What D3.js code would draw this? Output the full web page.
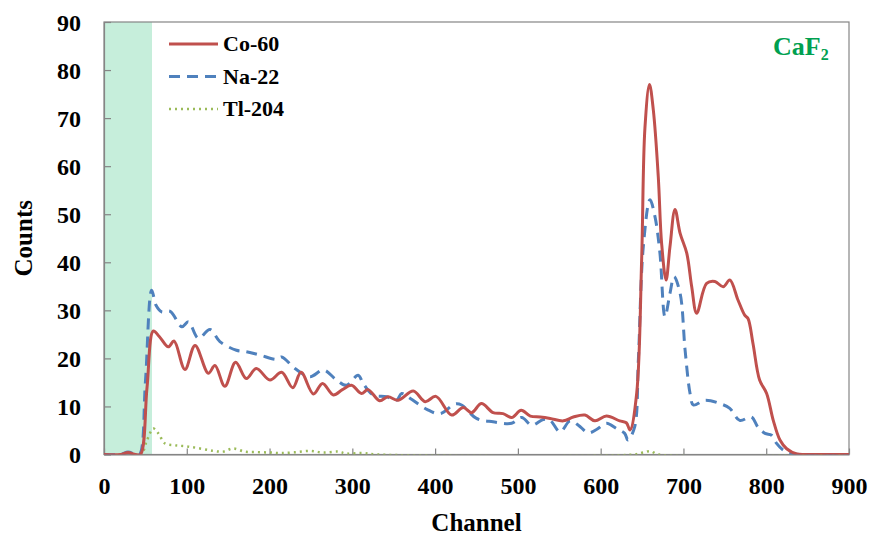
<!DOCTYPE html>
<html>
<head>
<meta charset="utf-8">
<script src="https://cdn.jsdelivr.net/npm/d3@7"></script>
<style>
  html, body { margin: 0; padding: 0; background: #fff; }
  svg { display: block; }
  text { font-family: "Liberation Serif", "Times New Roman", serif; font-weight: bold; }
</style>
</head>
<body>
<svg id="chart" width="874" height="546"></svg>
<script>
// ---- data ----
const xTicks = [0, 100, 200, 300, 400, 500, 600, 700, 800, 900];
const yTicks = [0, 10, 20, 30, 40, 50, 60, 70, 80, 90];
const seriesNames = ["Co-60", "Na-22", "Tl-204"];
const shadedRange = [0, 58];

const co60 = [[0,0],[20,0],[29,0.4],[38,0],[44,0],[52,14],[59.6,25.7],[67,24.5],[77.7,22.4],[84.6,23.6],[97.8,17.7],[110,22.7],[126,16.9],[134,18.5],[146,14.2],[159,19.2],[172,15.8],[184,17.9],[200.5,15.5],[214.6,17.1],[228,13.9],[238,17.1],[253,12.6],[264,14.8],[277,12.4],[288,13.5],[299,14.4],[311,12.7],[319,13.5],[333,11.2],[343,12.0],[355.5,11.3],[373.6,13.2],[388,11.0],[401,12.1],[420,8.2],[434,9.8],[444,8.7],[456,10.6],[470,8.7],[482,8.5],[492.5,7.7],[504,9.2],[515,8.0],[527,7.8],[539,7.5],[555,7.0],[567,7.8],[581,8.2],[593,7.0],[607,8.0],[623,7.0],[631,6.6],[635.5,5.1],[643.5,12.7],[649.5,40.5],[653.5,68],[659,77],[663.6,71.7],[669.6,57.8],[673.6,44],[679,36.3],[683.7,43.2],[689.8,51],[696,46],[704,41.9],[710,34.9],[716,29.4],[728,35.6],[738,36],[748,34.9],[756,36.3],[766,32.1],[774,29],[778,28.3],[784,23.1],[792,15.5],[800.5,12.7],[808.5,7.1],[816.6,3],[824.7,1.2],[837,0.1],[850,0],[900,0]];

const na22 = [[0,0],[20,0],[29,0.5],[38,0],[43,0],[50,15],[57.6,34.2],[63,31],[69.7,29.7],[80,29.8],[94,26.6],[102,27.6],[114,24.2],[128,26],[140,23.5],[160,21.7],[172,21.4],[188,20.7],[208.6,19.8],[214.6,20.3],[230.7,17.9],[249,16.2],[265,17.6],[281,15.5],[293,14.4],[307,16.5],[313,14.8],[325,12.4],[341.5,12],[353.6,11.3],[359.6,12.7],[369.6,11.7],[390,9.4],[406,8.5],[424,10.5],[432,10.3],[450,7.5],[470,6.8],[492.5,6.5],[504.6,7.7],[516.7,6.1],[530.7,7.3],[539,7.1],[551,4.7],[563,7.0],[573,6.1],[585,4.5],[595,5.2],[607,6.5],[619,5.4],[629,4.4],[633,3.0],[641,5.7],[645.5,19.6],[651.5,43.2],[659.6,53],[665.6,49.5],[671.6,41.9],[677.7,28.7],[683.7,33.5],[688.6,37],[696,33.5],[702,21.7],[708,12.7],[712,10.3],[726,11.3],[744,10.6],[756,9.6],[768,7.1],[782,7.8],[790,5.7],[798.5,4.4],[806.5,4.0],[812.5,2.3],[820.6,0.9],[833,0.1],[845,0],[900,0]];

const tl204 = [[0,0],[44,0],[52,3],[59.6,5.4],[65.6,4.4],[73.7,2.3],[86,1.9],[100,1.7],[116,1.25],[132,0.75],[144,0.6],[156,1.25],[170,0.6],[186,0.5],[202,0.4],[214,0.3],[230,0.45],[249,0.75],[265,0.4],[283,0.6],[293,0.2],[313,0.3],[330,0],[640,0],[651,0.4],[660,0.7],[670,0],[900,0]];

// ---- layout ----
const svg = d3.select("#chart");
const L = 104, R = 849, T = 22, B = 454.5;
const x = d3.scaleLinear().domain([0, 900]).range([L, R]);
const y = d3.scaleLinear().domain([0, 90]).range([B, T]);
const axisColor = "#858585";

// shaded band
svg.append("rect")
  .attr("x", x(shadedRange[0])).attr("y", T)
  .attr("width", x(shadedRange[1]) - x(shadedRange[0]))
  .attr("height", B - T)
  .attr("fill", "#c6eedb");

// frame
svg.append("rect")
  .attr("x", L).attr("y", T).attr("width", R - L).attr("height", B - T)
  .attr("fill", "none").attr("stroke", axisColor).attr("stroke-width", 1.2);

// axes
const gx = svg.append("g").attr("transform", `translate(0,${B})`)
  .call(d3.axisBottom(x).tickValues(xTicks).tickSizeInner(-6).tickSizeOuter(0).tickPadding(22));
const gy = svg.append("g").attr("transform", `translate(${L},0)`)
  .call(d3.axisLeft(y).tickValues(yTicks).tickSizeInner(-7).tickSizeOuter(0).tickPadding(23));
[gx, gy].forEach(g => {
  g.select(".domain").attr("stroke", axisColor).attr("stroke-width", 1.2);
  g.selectAll(".tick line").attr("stroke", axisColor).attr("stroke-width", 1.2);
  g.selectAll(".tick text").attr("font-size", 24).attr("fill", "#000")
    .attr("font-family", "Liberation Serif, Times New Roman, serif").attr("font-weight", "bold");
});
gy.selectAll(".tick text").attr("dy", "0.34em");

// clip
svg.append("clipPath").attr("id", "clip").append("rect")
  .attr("x", L).attr("y", T - 2).attr("width", R - L).attr("height", B - T + 2);

const line = d3.line().x(d => x(d[0])).y(d => y(d[1])).curve(d3.curveCatmullRom.alpha(0.5));
const gLines = svg.append("g").attr("clip-path", "url(#clip)");

const styles = [
  { data: tl204, color: "#9bbb59", width: 2.5, dash: "2,4" },
  { data: na22, color: "#4f81bd", width: 3, dash: "11,7" },
  { data: co60, color: "#c0504d", width: 3, dash: null }
];
styles.forEach(s => {
  gLines.append("path").datum(s.data)
    .attr("d", line).attr("fill", "none")
    .attr("stroke", s.color).attr("stroke-width", s.width)
    .attr("stroke-dasharray", s.dash)
    .attr("stroke-linejoin", "round");
});

// legend
const legend = [
  { name: seriesNames[0], color: "#c0504d", width: 3, dash: null },
  { name: seriesNames[1], color: "#4f81bd", width: 3, dash: "11,7" },
  { name: seriesNames[2], color: "#9bbb59", width: 2.5, dash: "2,4" }
];
legend.forEach((d, i) => {
  const ly = 44 + i * 32.5;
  svg.append("line").attr("x1", 169).attr("x2", 218).attr("y1", ly).attr("y2", ly)
    .attr("stroke", d.color).attr("stroke-width", d.width).attr("stroke-dasharray", d.dash);
  svg.append("text").attr("x", 223).attr("y", ly).attr("dy", "0.34em")
    .attr("font-size", 22).attr("fill", "#000").text(d.name);
});

// CaF2 label
const caf = svg.append("text").attr("x", 773).attr("y", 55).attr("font-size", 26).attr("fill", "#00a050");
caf.append("tspan").text("CaF");
caf.append("tspan").attr("font-size", 16).attr("dy", 5).text("2");

// axis titles
svg.append("text").attr("x", (L + R) / 2).attr("y", 531).attr("text-anchor", "middle")
  .attr("font-size", 25).attr("fill", "#000").text("Channel");
svg.append("text").attr("transform", `translate(32,${(T + B) / 2}) rotate(-90)`)
  .attr("text-anchor", "middle").attr("font-size", 25).attr("fill", "#000").text("Counts");
</script>
</body>
</html>
